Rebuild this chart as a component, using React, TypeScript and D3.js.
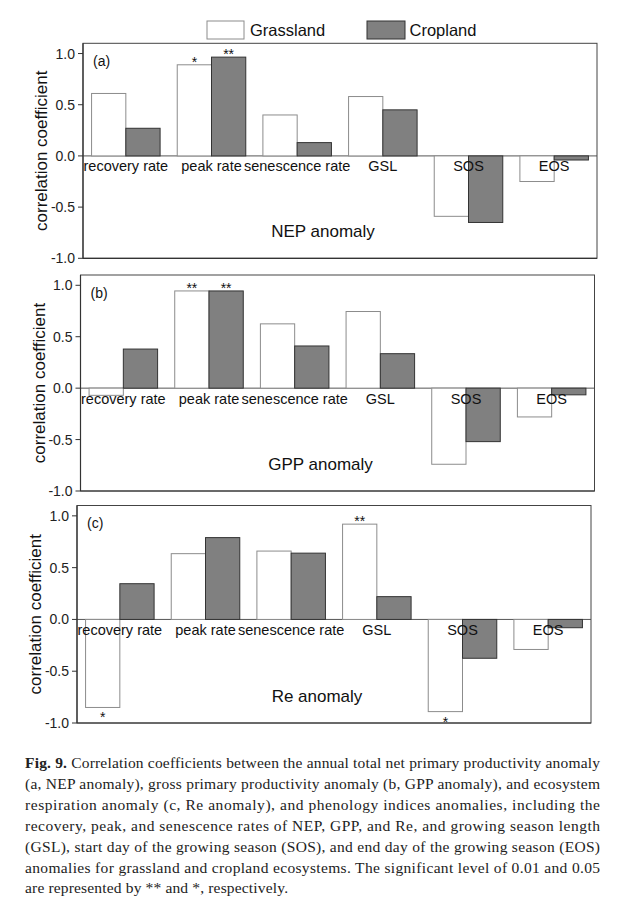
import React from "react";
import * as d3 from "d3";

const categories = ["recovery rate", "peak rate", "senescence rate", "GSL", "SOS", "EOS"];

const nepGrass = [0.61, 0.89, 0.4, 0.58, -0.59, -0.25];
const nepCrop = [0.27, 0.965, 0.13, 0.45, -0.65, -0.04];
const gppGrass = [-0.07, 0.945, 0.625, 0.745, -0.74, -0.28];
const gppCrop = [0.38, 0.945, 0.41, 0.335, -0.52, -0.065];
const reGrass = [-0.85, 0.635, 0.66, 0.92, -0.89, -0.29];
const reCrop = [0.345, 0.79, 0.64, 0.22, -0.375, -0.08];

const nepGrassSig = ["", "*", "", "", "", ""];
const nepCropSig = ["", "**", "", "", "", ""];
const gppGrassSig = ["", "**", "", "", "", ""];
const gppCropSig = ["", "**", "", "", "", ""];
const reGrassSig = ["*", "", "", "**", "*", ""];
const reCropSig = ["", "", "", "", "", ""];

const yTicks = [-1.0, -0.5, 0.0, 0.5, 1.0];
const panelLetters = ["(a)", "(b)", "(c)"];
const panelTitles = ["NEP anomaly", "GPP anomaly", "Re anomaly"];
const seriesNames = ["Grassland", "Cropland"];

const captionLines = [
  "Correlation coefficients between the annual total net primary productivity anomaly",
  "(a, NEP anomaly), gross primary productivity anomaly (b, GPP anomaly), and ecosystem",
  "respiration anomaly (c, Re anomaly), and phenology indices anomalies, including the",
  "recovery, peak, and senescence rates of NEP, GPP, and Re, and growing season length",
  "(GSL), start day of the growing season (SOS), and end day of the growing season (EOS)",
  "anomalies for grassland and cropland ecosystems. The significant level of 0.01 and 0.05",
  "are represented by ** and *, respectively.",
];

const panelsData = [
  { grass: nepGrass, crop: nepCrop, gSig: nepGrassSig, cSig: nepCropSig },
  { grass: gppGrass, crop: gppCrop, gSig: gppGrassSig, cSig: gppCropSig },
  { grass: reGrass, crop: reCrop, gSig: reGrassSig, cSig: reCropSig },
];

const layout = [
  { left: 83, top: 43.3, bottom: 258.3 },
  { left: 80.5, top: 275, bottom: 491 },
  { left: 77, top: 505.5, bottom: 723 },
];
const PW = 514;
const GRASS_FILL = "#ffffff";
const GRASS_STROKE = "#8c8c8c";
const CROP_FILL = "#808080";
const CROP_STROKE = "#333333";
const AXIS = "#333333";
const FONT = "'Liberation Sans', Arial, sans-serif";

function Panel({ idx }: { idx: number }) {
  const L = layout[idx];
  const D = panelsData[idx];
  const x = d3.scaleBand<string>().domain(categories).range([L.left, L.left + PW]).padding(0);
  const y = d3.scaleLinear().domain([-1, 1.1]).range([L.bottom, L.top]);
  const bw = x.bandwidth() * 0.4;
  const y0 = y(0);
  const fmt = (t: number) => d3.format(".1f")(t).replace("\u2212", "-");

  const sigMark = (v: number, s: string, cx: number) => {
    if (!s) return null;
    const ty = v >= 0 ? y(v) + 2 : y(v) + 15;
    return (
      <text x={cx} y={ty} textAnchor="middle" fontSize={14} fontFamily={FONT} fill="#111">
        {s}
      </text>
    );
  };

  return (
    <g>
      <line x1={L.left} x2={L.left + PW} y1={y0} y2={y0} stroke="#555" strokeWidth={1} />
      {categories.map((c, i) => {
        const cx = (x(c) as number) + x.bandwidth() / 2;
        const g = D.grass[i];
        const cr = D.crop[i];
        return (
          <g key={c}>
            <rect
              x={cx - bw}
              y={Math.min(y(g), y0)}
              width={bw}
              height={Math.abs(y(g) - y0)}
              fill={GRASS_FILL}
              stroke={GRASS_STROKE}
              strokeWidth={1}
            />
            <rect
              x={cx}
              y={Math.min(y(cr), y0)}
              width={bw}
              height={Math.abs(y(cr) - y0)}
              fill={CROP_FILL}
              stroke={CROP_STROKE}
              strokeWidth={1}
            />
            {sigMark(g, D.gSig[i], cx - bw / 2)}
            {sigMark(cr, D.cSig[i], cx + bw / 2)}
            <text x={cx} y={y0 + 15.5} textAnchor="middle" fontSize={14.5} fontFamily={FONT} fill="#111">
              {c}
            </text>
          </g>
        );
      })}
      <rect x={L.left} y={L.top} width={PW} height={L.bottom - L.top} fill="none" stroke="#444" strokeWidth={1} />
      <line x1={L.left} x2={L.left} y1={L.top} y2={L.bottom} stroke={AXIS} strokeWidth={1.2} />
      <line x1={L.left} x2={L.left + PW} y1={L.bottom} y2={L.bottom} stroke={AXIS} strokeWidth={1.2} />
      {yTicks.map((t) => (
        <g key={t}>
          <line x1={L.left - 5} x2={L.left} y1={y(t)} y2={y(t)} stroke={AXIS} strokeWidth={1} />
          <text x={L.left - 8} y={y(t) + 5} textAnchor="end" fontSize={14} fontFamily={FONT} fill="#222">
            {fmt(t)}
          </text>
        </g>
      ))}
      <text x={L.left + 10} y={L.top + 22.5} fontSize={14} fontFamily={FONT} fill="#111">
        {panelLetters[idx]}
      </text>
      <text x={L.left + 240} y={L.bottom - 21} textAnchor="middle" fontSize={17} fontFamily={FONT} fill="#111">
        {panelTitles[idx]}
      </text>
      <text
        transform={`translate(${L.left - 36},${(L.top + L.bottom) / 2}) rotate(-90)`}
        textAnchor="middle"
        fontSize={17}
        fontFamily={FONT}
        fill="#111"
      >
        correlation coefficient
      </text>
    </g>
  );
}

export default function App() {
  const capTop = 768;
  const capStep = 20.9;
  return (
    <svg width={625} height={907} style={{ position: "absolute", left: 0, top: 0, background: "#fff" }}>
      <rect x={0} y={0} width={625} height={907} fill="#fff" />
      <rect x={207} y={21} width={37} height={18} fill={GRASS_FILL} stroke={GRASS_STROKE} strokeWidth={1} />
      <text x={250} y={36} fontSize={16.5} fontFamily={FONT} fill="#111">
        {seriesNames[0]}
      </text>
      <rect x={367} y={21} width={38} height={18} fill={CROP_FILL} stroke={CROP_STROKE} strokeWidth={1} />
      <text x={409.5} y={36} fontSize={16.5} fontFamily={FONT} fill="#111">
        {seriesNames[1]}
      </text>
      {[0, 1, 2].map((i) => (
        <Panel key={i} idx={i} />
      ))}
      {captionLines.map((line, i) => {
        const last = i === captionLines.length - 1;
        if (i === 0) {
          return (
            <text key={i} x={25} y={capTop} fontSize={15.5} fontFamily="'Liberation Serif', serif" fill="#222" textLength={575} lengthAdjust="spacing">
              <tspan fontWeight="bold">Fig. 9.</tspan> {line}
            </text>
          );
        }
        return (
          <text
            key={i}
            x={25}
            y={capTop + i * capStep}
            fontSize={15.5}
            fontFamily="'Liberation Serif', serif"
            fill="#222"
            textLength={last ? 263 : 575}
            lengthAdjust="spacing"
          >
            {line}
          </text>
        );
      })}
    </svg>
  );
}
